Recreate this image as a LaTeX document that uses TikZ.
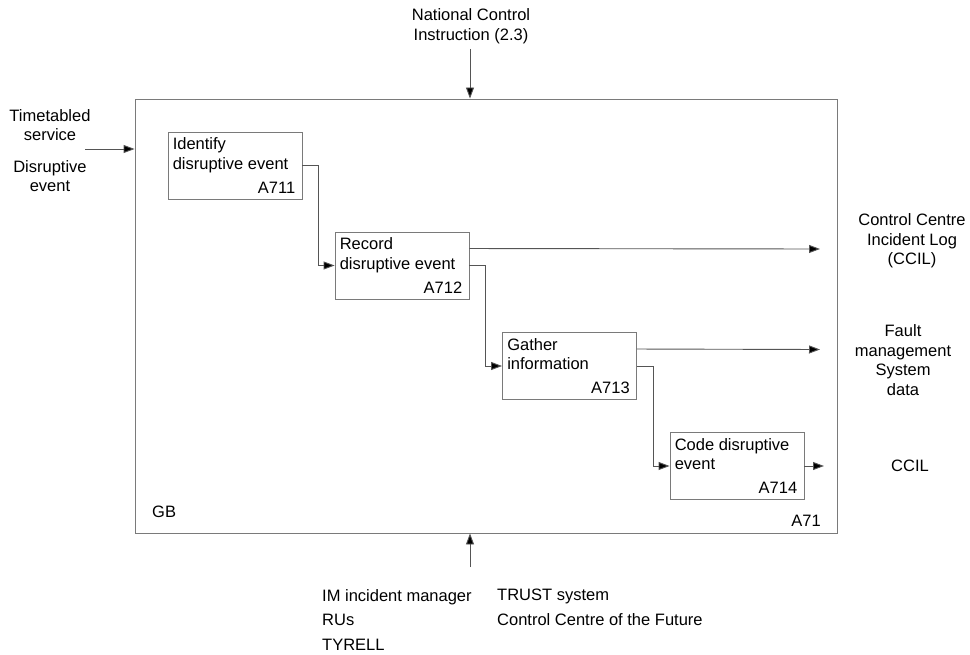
\documentclass[tikz,border=0pt]{standalone}
\usepackage{fontspec}
\setmainfont{Liberation Sans}
\usepackage{xcolor}
\usepackage{tikz}
\usetikzlibrary{arrows.meta,positioning,calc}
\definecolor{frame}{HTML}{7A7A7A}
\definecolor{wire}{HTML}{555555}
\tikzset{
  act/.style={draw=frame, line width=0.9pt, minimum width=134pt, minimum height=67pt, inner sep=0pt},
  ttl/.style={align=left, inner sep=0pt, font=\fontsize{16.5}{19.5}\selectfont},
  code/.style={inner sep=0pt, font=\fontsize{16.5}{19.5}\selectfont},
  txt/.style={align=center, inner sep=0pt, font=\fontsize{16.5}{19.5}\selectfont},
  lst/.style={align=left, inner sep=0pt, font=\fontsize{16.5}{24.5}\selectfont},
  flow/.style={draw=wire, line width=0.9pt, -{Triangle[length=11pt,width=8pt,fill=black]}},
}
% box with title at top left and number at bottom right
\newcommand{\actbox}[4]{%
  \node[act] (#1) at (#2) {};
  \node[ttl, anchor=north west] at ($(#1.north west)+(5,6)$) {#3};
  \node[code, anchor=south east] at ($(#1.south east)+(-7,-6)$) {#4};}

\begin{document}
\begin{tikzpicture}[x=1pt,y=-1pt]
  \useasboundingbox (0,0) rectangle (970,655);
  \node[act, minimum width=702pt, minimum height=434pt] (a71) at (486,316) {};
  \node[code, anchor=west] at (152,512) {GB};
  \node[code, anchor=east] at (821,521) {A71};
  \actbox{a711}{235,165.5}{Identify\\disruptive event}{A711}
  \actbox{a712}{402,265.5}{Record\\disruptive event}{A712}
  \actbox{a713}{569.5,366}{Gather\\information}{A713}
  \actbox{a714}{737,466}{Code disruptive\\event}{A714}
  % inputs, controls, mechanisms
  \node[txt] (nci) at (471,26) {National Control\\Instruction (2.3)};
  \node[txt] (tts) at (50,125) {Timetabled\\service};
  \node[txt] (dev) at (50,176) {Disruptive\\event};
  \coordinate (ctl) at (470,49);
  \coordinate (inp) at (85,149);
  \coordinate (mec) at (470,567);
  \draw[flow] (ctl) -- (ctl |- a71.north);
  \draw[flow] (inp) -- (inp -| a71.west);
  \draw[flow] (mec) -- (mec |- a71.south);
  \node[lst, anchor=west] (who) at (322,620) {IM incident manager\\RUs\\TYRELL};
  \node[lst, anchor=west] (sys) at (497,607.5) {TRUST system\\Control Centre of the Future};
  % outputs
  \node[txt] (ccil) at (912,241) {Control Centre\\Incident Log\\(CCIL)};
  \node[txt] (fms) at (903,360) {Fault\\management\\System\\data};
  \node[txt] (ccil2) at (910,466) {CCIL};
  \coordinate (o1) at (820,249);
  \coordinate (o2) at (820,349.5);
  \coordinate (o3) at (824,466);
  \draw[flow] ($(a712.north east)!0.25!(a712.south east)$) -- (o1);
  \draw[flow] ($(a713.north east)!0.25!(a713.south east)$) -- (o2);
  \draw[flow] (a714.east) -- (o3);
  % steps
  \draw[flow] (a711.east) -- ++(16,0) |- (a712.west);
  \draw[flow] (a712.east) -- ++(16,0) |- (a713.west);
  \draw[flow] (a713.east) -- ++(16,0) |- (a714.west);
\end{tikzpicture}
\end{document}
